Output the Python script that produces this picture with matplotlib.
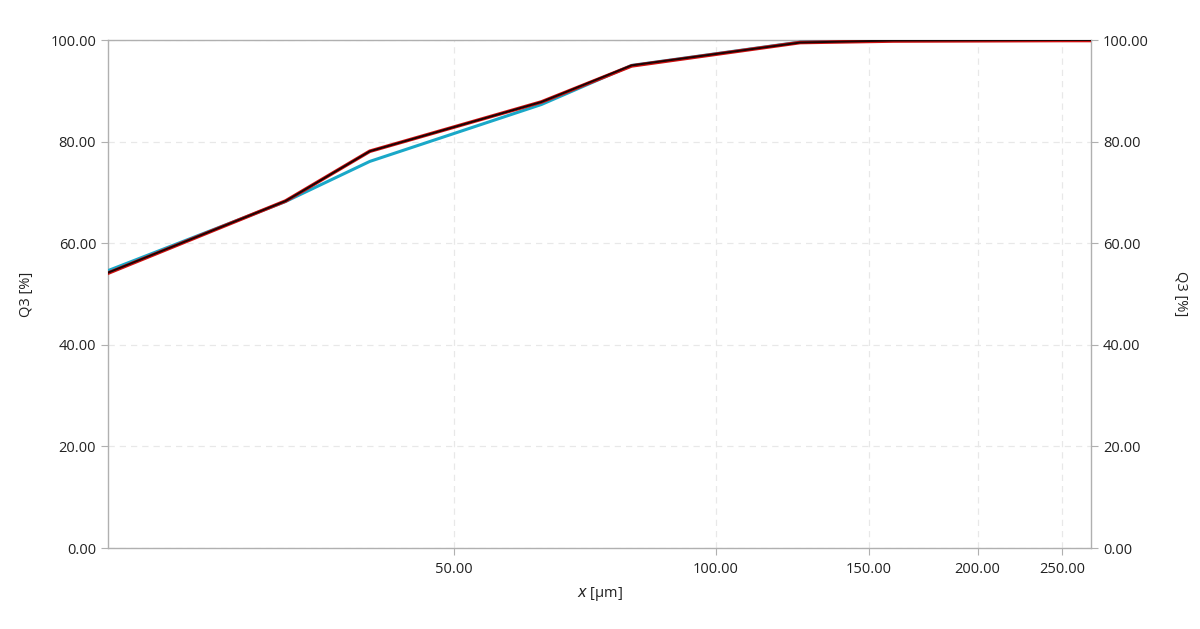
import matplotlib
matplotlib.use("Agg")
import matplotlib.pyplot as plt
from matplotlib.ticker import FixedLocator, NullLocator, FormatStrFormatter

# sieve sizes [um] and cumulative passing Q3 [%]
sizes = [20, 32, 40, 63, 80, 125, 160, 250, 270]
q3_cyan = [54.6, 68.2, 76.1, 87.3, 95.0, 99.6, 100.0, 100.0, 100.0]
q3_red = [54.1, 68.3, 78.1, 87.8, 94.9, 99.5, 99.8, 99.9, 99.9]
q3_black = [54.2, 68.3, 78.1, 87.8, 95.0, 99.5, 99.9, 100.0, 100.0]

x_ticks = [50, 100, 150, 200, 250]
y_ticks = [0, 20, 40, 60, 80, 100]

plt.rcParams["font.family"] = ["Open Sans", "DejaVu Sans"]

fig = plt.figure(figsize=(12, 6.29), dpi=100)
ax = fig.add_axes([108 / 1200, 1 - 548 / 629, (1091 - 108) / 1200, (548 - 40) / 629])

ax.plot(sizes, q3_cyan, color="#1aa8c8", lw=2.2, zorder=3)
ax.plot(sizes, q3_red, color="#d01010", lw=2.6, zorder=4)
ax.plot(sizes, q3_black, color="#1a0505", lw=1.4, zorder=5)

ax.set_xscale("log")
ax.set_xlim(20, 270)
ax.set_ylim(0, 100)
ax.xaxis.set_major_locator(FixedLocator(x_ticks))
ax.xaxis.set_minor_locator(NullLocator())
ax.xaxis.set_major_formatter(FormatStrFormatter("%.2f"))
ax.set_yticks(y_ticks)
ax.yaxis.set_major_formatter(FormatStrFormatter("%.2f"))

ax.grid(True, color="#e8e8e8", linestyle=(0, (5, 4)), linewidth=0.9)
for s in ax.spines.values():
    s.set_color("#b0b0b0")
    s.set_linewidth(1.0)
ax.tick_params(axis="both", colors="#b0b0b0", labelcolor="#222222", labelsize=10.5, length=5)
ax.tick_params(axis="x", pad=5)

ax.set_xlabel(r"$x$ [μm]", fontsize=10.5, color="#222222", labelpad=6)
ax.set_ylabel("Q3 [%]", fontsize=10.5, color="#222222", labelpad=12)

ax2 = ax.twinx()
ax2.set_ylim(0, 100)
ax2.set_yticks(y_ticks)
ax2.yaxis.set_major_formatter(FormatStrFormatter("%.2f"))
ax2.tick_params(axis="y", colors="#b0b0b0", labelcolor="#222222", labelsize=10.5, length=5)
for s in ax2.spines.values():
    s.set_visible(False)
ax2.set_ylabel("Q3 [%]", fontsize=10.5, color="#222222", rotation=270, labelpad=28)

fig.savefig("out.png", dpi=100)
